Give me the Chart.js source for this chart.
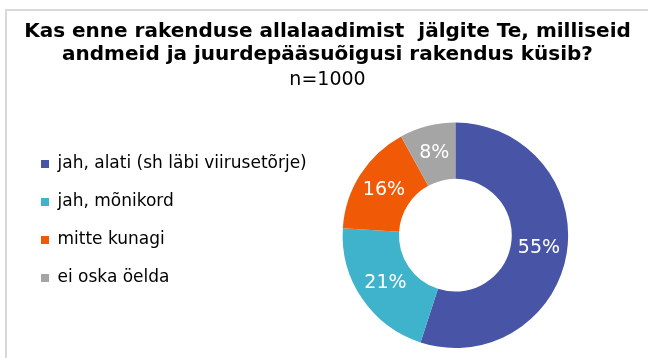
<!DOCTYPE html>
<html>
<head>
<meta charset="utf-8">
<script src="https://cdn.jsdelivr.net/npm/chart.js@4.4.1/dist/chart.umd.min.js"></script>
<style>
    html, body { margin: 0; padding: 0; background: #fff; }
    #frame {
        position: absolute;
        left: 5px;
        top: 9px;
        width: 641px;
        height: 347px;
        border-top: 2px solid #d9d9d9;
        border-left: 2px solid #d9d9d9;
    }
    #frame canvas { display: block; }
</style>
</head>
<body>
<div id="frame"><canvas id="appChart" width="641" height="347"></canvas></div>
<script>
// Survey answers (n=1000)
const answerLabels = ['jah, alati (sh läbi viirusetõrje)', 'jah, mõnikord', 'mitte kunagi', 'ei oska öelda'];
const answerShares = [55, 21, 16, 8];
const answerColors = ['#4854a5', '#3fb2cc', '#f05a06', '#a5a5a5'];

const titleLines = ['Kas enne rakenduse allalaadimist  jälgite Te, milliseid', 'andmeid ja juurdepääsuõigusi rakendus küsib?'];
const sampleText = 'n=1000';

// Keeps some empty room to the right of the doughnut
const plotInset = {
    id: 'plotInset',
    afterLayout(chart, args, opts) {
        const area = chart.chartArea;
        area.right -= opts.right || 0;
        area.width = area.right - area.left;
    }
};

// Writes the percentage in the middle of every slice
const sliceLabels = {
    id: 'sliceLabels',
    afterDatasetsDraw(chart) {
        const ctx = chart.ctx;
        const meta = chart.getDatasetMeta(0);
        ctx.save();
        ctx.font = '19px "DejaVu Sans"';
        ctx.fillStyle = '#ffffff';
        ctx.textAlign = 'center';
        ctx.textBaseline = 'middle';
        meta.data.forEach(function (arc, i) {
            const pos = arc.tooltipPosition();
            ctx.fillText(chart.data.datasets[0].data[i] + '%', pos.x, pos.y);
        });
        ctx.restore();
    }
};

const ctx = document.getElementById('appChart').getContext('2d');
const appChart = new Chart(ctx, {
    type: 'doughnut',
    data: {
        labels: answerLabels,
        datasets: [{
            data: answerShares,
            backgroundColor: answerColors,
            borderWidth: 0
        }]
    },
    options: {
        responsive: false,
        animation: false,
        cutout: '50%',
        layout: {
            padding: { left: 13, right: 13, top: 0, bottom: 10 }
        },
        plugins: {
            plotInset: { right: 41 },
            title: {
                display: true,
                text: titleLines,
                color: '#000',
                font: { family: 'DejaVu Sans', size: 20, weight: 'bold', lineHeight: 1.15 },
                padding: { top: 9.5, bottom: 0 }
            },
            subtitle: {
                display: true,
                text: sampleText,
                color: '#000',
                font: { family: 'DejaVu Sans', size: 19, lineHeight: 1.42 },
                padding: { top: 0, bottom: 29 }
            },
            legend: {
                position: 'left',
                align: 'start',
                fullSize: false,
                maxWidth: 400,
                title: {
                    display: true,
                    text: ' ',
                    font: { size: 1, lineHeight: 1 },
                    padding: 5.5
                },
                labels: {
                    boxWidth: 8,
                    boxHeight: 8,
                    padding: 21,
                    color: '#000',
                    font: { family: 'DejaVu Sans', size: 17 }
                }
            },
            tooltip: { enabled: false }
        }
    },
    plugins: [plotInset, sliceLabels]
});
</script>
</body>
</html>
